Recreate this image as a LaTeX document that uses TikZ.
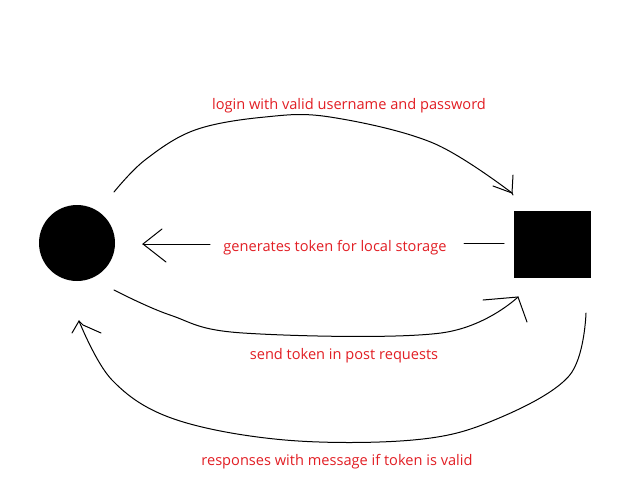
\documentclass[tikz,border=0pt]{standalone}
\usepackage{fontspec}
\setmainfont{Open Sans}
\definecolor{lblred}{RGB}{226,30,36}
\begin{document}
\begin{tikzpicture}[x=1pt,y=-1pt,
  conn/.style={line width=1pt,black,line join=round,line cap=round},
  lbl/.style={text=lblred,font=\fontsize{14.6}{17}\selectfont,inner sep=0pt},
  client/.style={circle,fill=black,minimum size=76pt,inner sep=0pt},
  server/.style={rectangle,fill=black,minimum width=77pt,minimum height=67pt,inner sep=0pt}]
\fill[white] (0,0) rectangle (640,480);
\useasboundingbox (0,0) rectangle (640,480);

\node[client] (cl) at (77,243) {};
\node[server] (sv) at (552.5,244.5) {};

% labels
\node[lbl] (l1) at (349,105.5) {login with valid username and password};
\node[lbl] (l2) at (335,248) {generates token for local storage};
\node[lbl] (l3) at (344,356) {send token in post requests};
\node[lbl] (l4) at (337,462) {responses with message if token is valid};

% free ends
\coordinate (s1) at (114,192);
\coordinate (t1) at (512,193);
\coordinate (s2) at (504,243);
\coordinate (t2) at (143,244);
\coordinate (s3) at (114,290);
\coordinate (t3) at (518,297);
\coordinate (s4) at (586,313);
\coordinate (t4) at (79,321);

% login curve
\draw[conn] plot[smooth,tension=0.6] coordinates {(s1) (145,160) (195,130) (265,117) (330,117) (433,143) (t1)};
\draw[conn] (t1) -- ++(1,-18);
\draw[conn] (t1) -- ++(1,2);
\draw[conn] (t1) -- ++(-19,-7);

% generates token
\draw[conn] (s2) -- (464,243);
\draw[conn] (210,244) -- (t2);
\draw[conn] (t2) -- ++(19,-15);
\draw[conn] (t2) -- ++(23,18);

% send token
\draw[conn] plot[smooth,tension=0.6] coordinates {(s3) (170,315) (243,333) (441,333) (t3)};
\draw[conn] (t3) -- ++(-35,3);
\draw[conn] (t3) -- ++(9,25);

% responses
\draw[conn] plot[smooth,tension=0.6] coordinates {(s4) (569,376) (492,421) (413,440) (285,440) (174,419) (112,380) (t4)};
\draw[conn] (t4) -- ++(-7,12);
\draw[conn] (t4) -- ++(4,4) -- ++(18,8);
\end{tikzpicture}
\end{document}
